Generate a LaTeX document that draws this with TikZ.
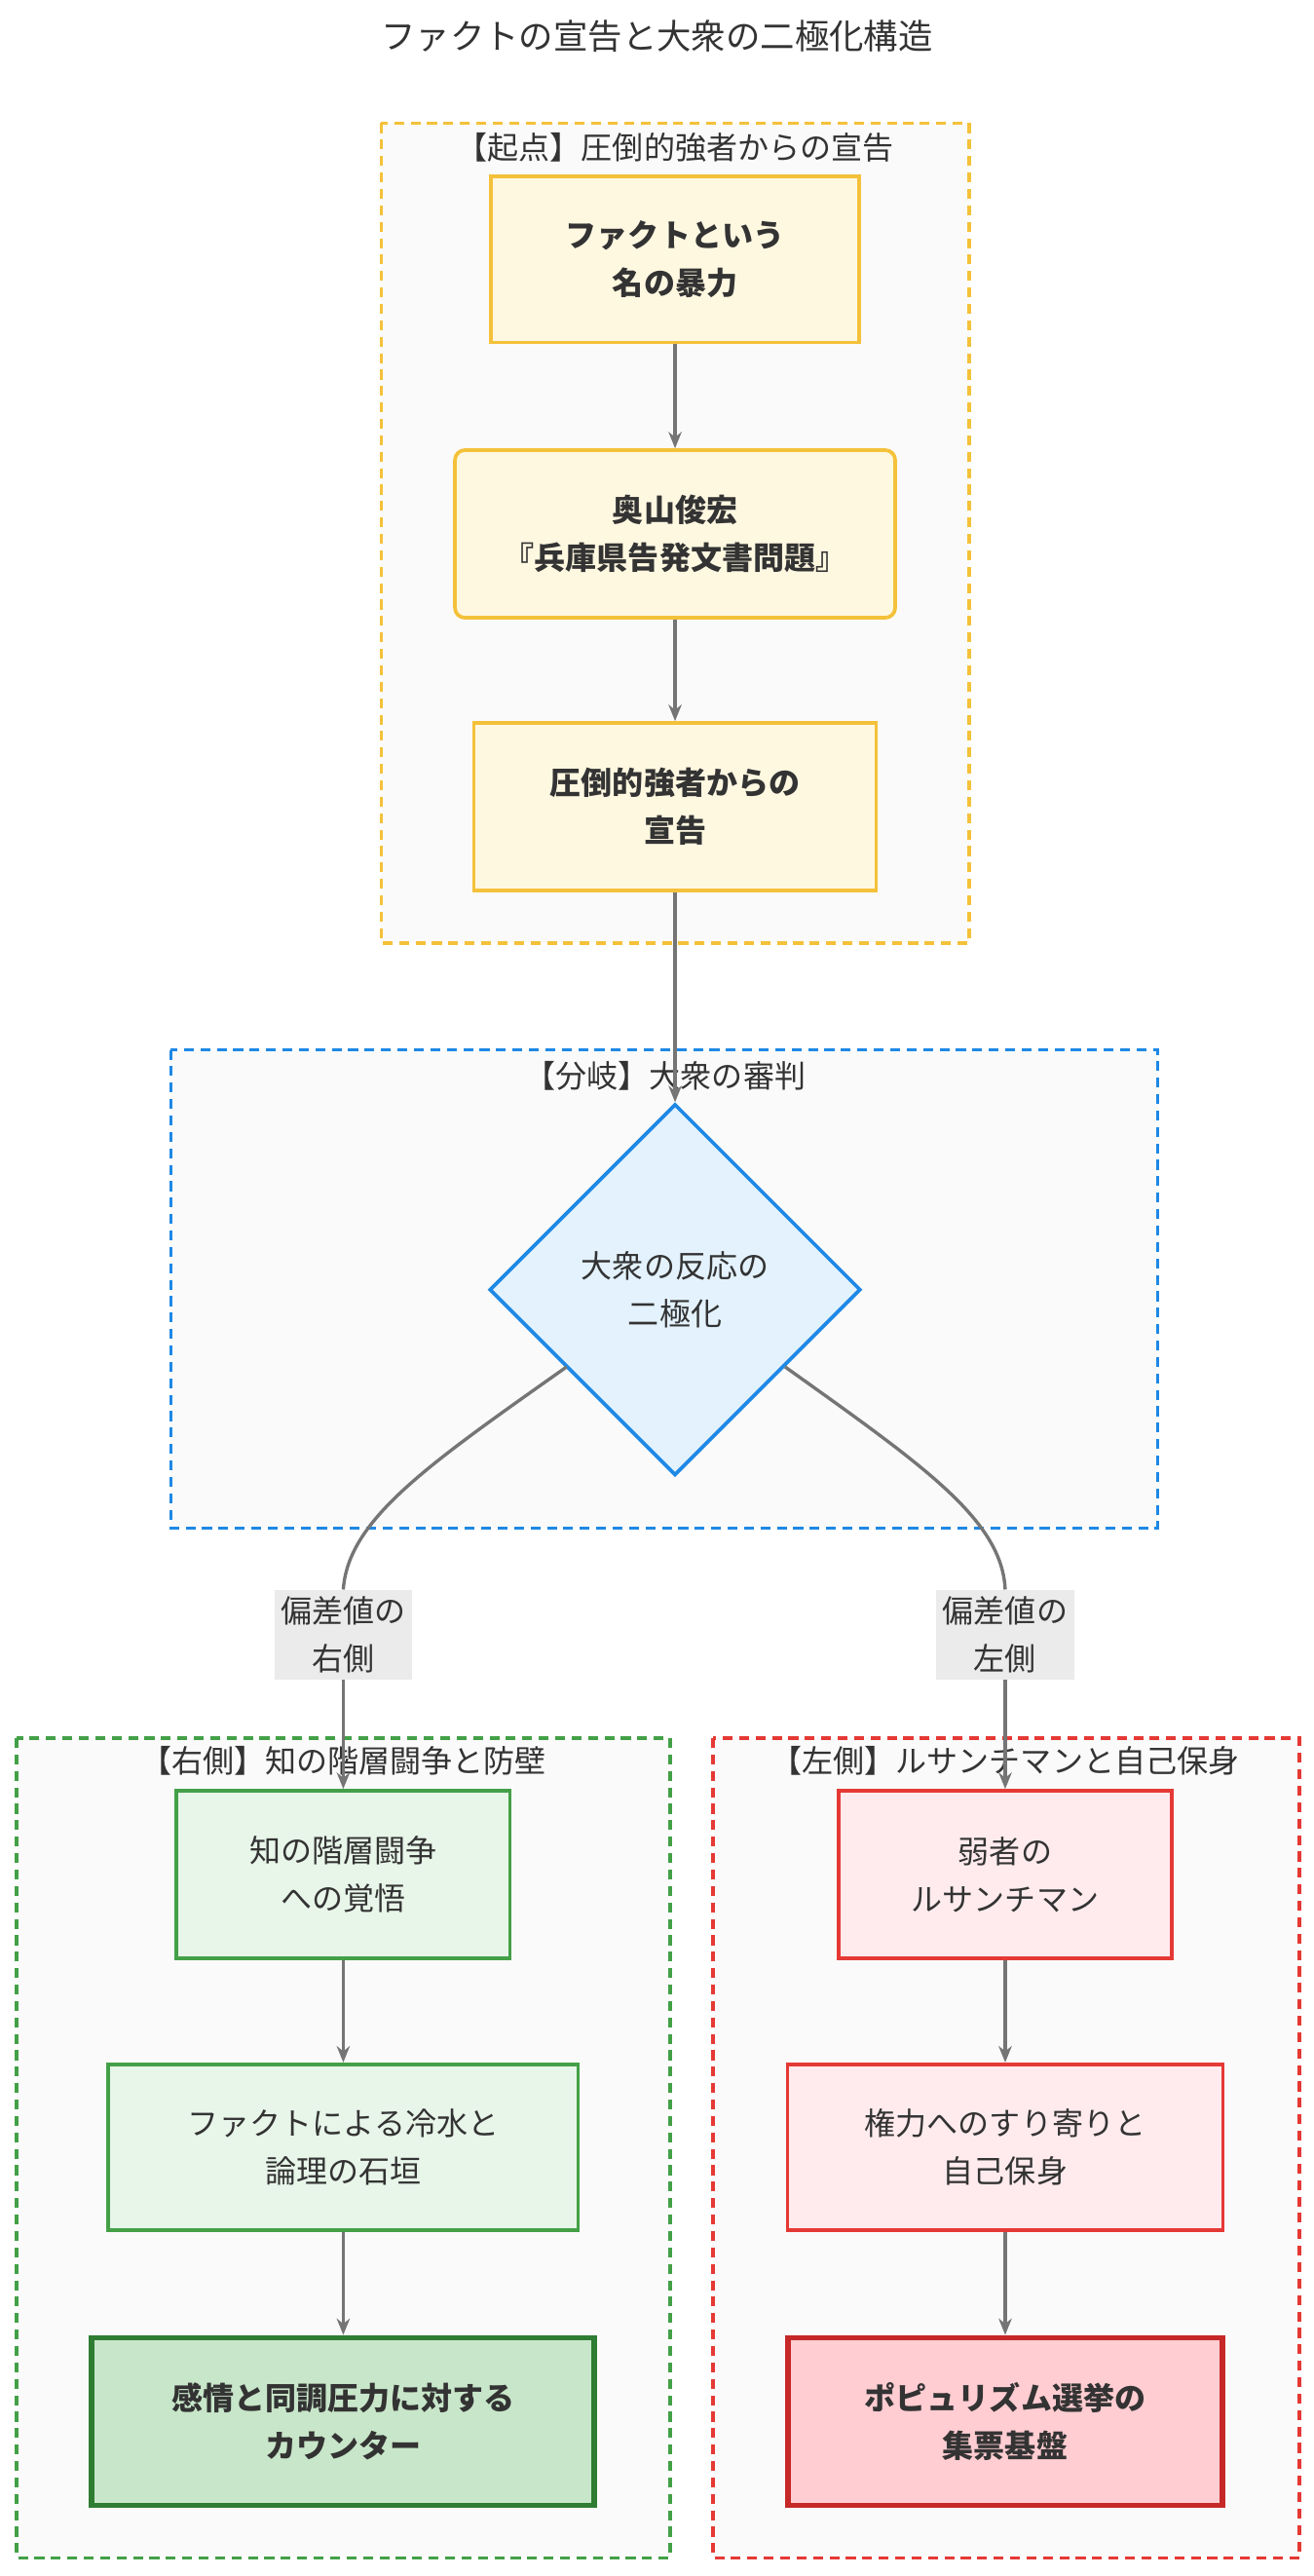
\documentclass[tikz,border=0pt]{standalone}
\usepackage{fontspec}
\setmainfont{Noto Sans CJK JP}
\usetikzlibrary{shapes.geometric,arrows.meta}
\definecolor{ylwline}{HTML}{F4C13A}
\definecolor{ylwfill}{HTML}{FFF8E1}
\definecolor{bluline}{HTML}{1E88E5}
\definecolor{blufill}{HTML}{E3F2FD}
\definecolor{grnline}{HTML}{43A047}
\definecolor{grnfill}{HTML}{E8F5E9}
\definecolor{grndark}{HTML}{2E7D32}
\definecolor{grnstrong}{HTML}{C8E6C9}
\definecolor{redline}{HTML}{E53935}
\definecolor{redfill}{HTML}{FFEBEE}
\definecolor{reddark}{HTML}{C62828}
\definecolor{redstrong}{HTML}{FFCDD2}
\definecolor{arrgray}{HTML}{757575}
\begin{document}
\begin{tikzpicture}[x=1pt,y=-1pt,>={Stealth[length=10pt,width=8pt]},
    font=\fontsize{19}{29}\selectfont,
    cluster/.style={line width=2pt,fill=black!2,dash pattern=on 6pt off 4pt},
    box/.style={draw,line width=2.2pt,align=center,text=black!80,inner sep=0pt},
    flow/.style={->,line width=2pt,draw=arrgray},
    tag/.style={fill=black!8,align=center,text=black!80,inner sep=4pt}]
  \useasboundingbox (0,0) rectangle (800,1568);
  \node[text=black!80,font=\fontsize{21}{26}\selectfont] (title) at (400,22) {ファクトの宣告と大衆の二極化構造};

  % clusters
  \draw[cluster,draw=ylwline] (232,75) rectangle (590,574);
  \node[text=black!80] (c1) at (411,90) {【起点】圧倒的強者からの宣告};
  \draw[cluster,draw=bluline] (104,639) rectangle (705,930);
  \draw[cluster,draw=grnline] (10,1058) rectangle (408,1557);
  \node[text=black!80] (c3) at (209,1072) {【右側】知の階層闘争と防壁};
  \draw[cluster,draw=redline] (434,1058) rectangle (791,1557);
  \node[text=black!80] (c4) at (612,1072) {【左側】ルサンチマンと自己保身};

  % top chain
  \node[box,draw=ylwline,fill=ylwfill,minimum width=224pt,minimum height=101pt,font=\fontsize{19}{29}\selectfont\bfseries] (fact) at (411,158) {ファクトという\\名の暴力};
  \node[box,draw=ylwline,fill=ylwfill,rounded corners=6pt,minimum width=268pt,minimum height=102pt,font=\fontsize{19}{29}\selectfont\bfseries] (okuyama) at (411,325) {奥山俊宏\\『兵庫県告発文書問題』};
  \node[box,draw=ylwline,fill=ylwfill,minimum width=245pt,minimum height=102pt,font=\fontsize{19}{29}\selectfont\bfseries] (decl) at (411,491) {圧倒的強者からの\\宣告};

  % branch
  \node[diamond,box,draw=bluline,fill=blufill,minimum width=226pt,minimum height=226pt] (split) at (411,785) {大衆の反応の\\二極化};
  \node[text=black!80] (c2) at (405,655) {【分岐】大衆の審判};

  % right side (green)
  \node[box,draw=grnline,fill=grnfill,minimum width=203pt,minimum height=102pt] (kaku) at (209,1141) {知の階層闘争\\への覚悟};
  \node[box,draw=grnline,fill=grnfill,minimum width=286pt,minimum height=101pt] (reisui) at (209,1307) {ファクトによる冷水と\\論理の石垣};
  \node[box,draw=grndark,fill=grnstrong,line width=3.5pt,minimum width=306pt,minimum height=102pt,font=\fontsize{19}{29}\selectfont\bfseries] (counter) at (209,1474) {感情と同調圧力に対する\\カウンター};

  % left side (red)
  \node[box,draw=redline,fill=redfill,minimum width=203pt,minimum height=102pt] (jaku) at (612,1141) {弱者の\\ルサンチマン};
  \node[box,draw=redline,fill=redfill,minimum width=265pt,minimum height=101pt] (suri) at (612,1307) {権力へのすり寄りと\\自己保身};
  \node[box,draw=reddark,fill=redstrong,line width=3.5pt,minimum width=265pt,minimum height=102pt,font=\fontsize{19}{29}\selectfont\bfseries] (popu) at (612,1474) {ポピュリズム選挙の\\集票基盤};

  \node[tag] (lright) at (209,995) {偏差値の\\右側};
  \node[tag] (lleft) at (612,995) {偏差値の\\左側};

  \coordinate (sl) at (345,832);
  \coordinate (sr) at (478,832);

  \draw[flow] (fact) -- (okuyama);
  \draw[flow] (okuyama) -- (decl);
  \draw[flow] (decl) -- (split.north);
  \draw[line width=2pt,arrgray] (sl) .. controls (260,892) and (212,925) .. (lright.north);
  \draw[flow] (lright) -- (kaku);
  \draw[line width=2pt,arrgray] (sr) .. controls (562,892) and (610,925) .. (lleft.north);
  \draw[flow] (lleft) -- (jaku);
  \draw[flow] (kaku) -- (reisui);
  \draw[flow] (reisui) -- (counter);
  \draw[flow] (jaku) -- (suri);
  \draw[flow] (suri) -- (popu);
\end{tikzpicture}
\end{document}
